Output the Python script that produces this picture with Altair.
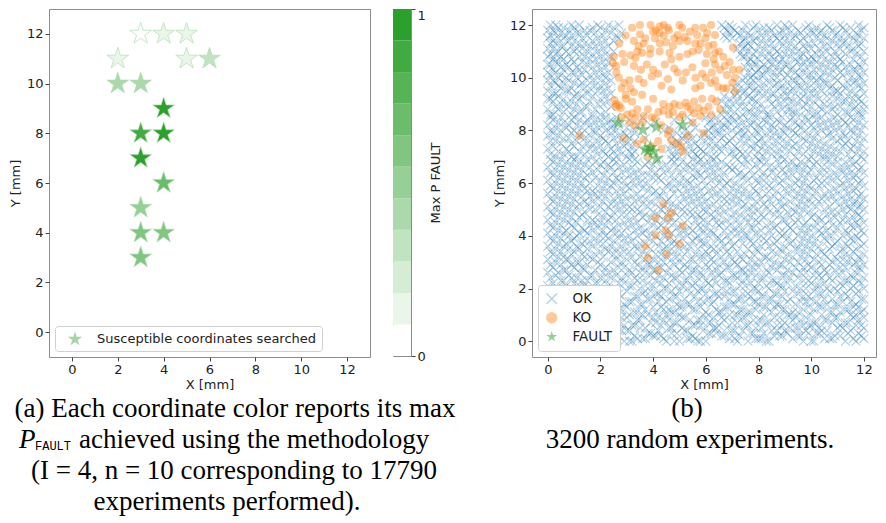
import altair as alt
import pandas as pd

# ---------------- panel (a): susceptible coordinates and their max P_FAULT
A_X = [3, 4, 5, 2, 5, 6, 2, 3, 4, 3, 4, 3, 4, 3, 3, 4, 3]
A_Y = [12, 12, 12, 11, 11, 11, 10, 10, 9, 8, 8, 7, 6, 5, 4, 4, 3]
A_P = [0.03, 0.12, 0.13, 0.11, 0.14, 0.30, 0.40, 0.41, 0.97, 0.85, 0.95, 0.93, 0.65, 0.50, 0.58, 0.57, 0.60]
A_LABEL = "Susceptible coordinates searched"

# ---------------- panel (b): 3200 random experiments
FAULT_X = [2.68, 3.61, 4.13, 5.12, 3.70, 3.90, 4.00, 3.80, 4.13]
FAULT_Y = [8.29, 8.03, 8.13, 8.22, 7.30, 7.35, 7.20, 7.22, 6.93]

KO_X = [3.2, 3.9, 4.25, 4.55, 4.1, 5.1, 5.9, 5.4, 2.95, 3.5, 4.0, 4.25, 4.6, 4.93, 5.2, 5.67, 6.35, 6.05,
        2.71, 3.27, 3.64, 4.07, 4.5, 4.75, 5.3, 5.98, 6.29, 7.03, 5.0, 5.6, 3.45, 4.25,
        2.84, 3.14, 3.58, 3.88, 4.25, 4.62, 5.0, 5.3, 5.73, 6.04, 6.35, 6.66, 3.33, 4.69,
        2.47, 2.6, 2.9, 3.27, 3.54, 3.76, 4.0, 4.19, 4.44, 4.8, 4.93, 5.24, 5.49, 5.86, 5.98, 6.35, 6.54, 6.72, 7.03, 7.27, 6.23, 2.59,
        2.9, 3.14, 3.45, 3.64, 3.95, 4.32, 4.56, 4.69, 5.12, 5.61, 5.8, 6.35, 6.47, 6.66, 7.09, 6.78, 2.96, 3.27,
        2.53, 2.96, 3.2, 3.58, 4.0, 4.38, 4.62, 4.8, 5.0, 5.24, 5.55, 5.86, 6.23, 2.71,
        2.59, 2.77, 3.02, 3.2, 3.33, 3.64, 3.95, 4.07, 4.38, 4.75, 5.12, 5.43, 5.55, 5.73, 5.92, 6.54,
        2.9, 3.33, 3.39, 3.64, 3.95, 4.19, 4.32, 4.56, 4.62, 4.93, 5.12, 5.06, 5.92, 3.82,
        1.2,
        4.38, 4.7, 4.56, 4.1, 5.12, 4.48, 4.6, 4.1, 5.0, 3.7, 3.8, 4.5, 4.19,
        3.4, 3.7, 3.9, 4.4, 4.8, 5.5, 5.8, 6.1, 6.5, 6.0, 6.3, 6.8, 6.9,
        3.1, 5.6, 6.2, 5.3, 6.1, 6.4, 2.8, 2.6, 3.4, 3.8, 4.2,
        4.6, 5.0, 5.8, 6.2, 3.1, 2.8, 3.6, 4.3, 4.7, 5.3, 5.5, 3.5, 4.4, 5.0, 5.6, 6.2, 2.5, 2.7, 7.1, 7.0]
KO_Y = [11.9, 12.0, 11.95, 11.9, 11.8, 11.9, 11.9, 11.75, 11.6, 11.65, 11.75, 11.7, 11.8, 11.62, 11.55, 11.62, 11.62, 11.7,
        11.3, 11.4, 11.3, 11.5, 11.35, 11.2, 11.4, 11.5, 11.25, 11.15, 11.4, 11.3, 11.2, 11.3,
        10.9, 10.85, 10.95, 10.9, 11.0, 10.95, 10.8, 10.9, 11.05, 10.9, 10.95, 10.8, 10.75, 10.7,
        10.55, 10.2, 10.6, 10.45, 10.3, 10.5, 10.3, 10.15, 10.5, 10.35, 10.2, 10.2, 10.4, 10.15, 10.55, 10.5, 10.3, 10.45, 10.3, 10.3, 10.2, 10.45,
        9.8, 9.6, 9.95, 9.8, 10.05, 9.7, 9.95, 9.55, 9.9, 10.0, 9.7, 9.9, 9.65, 9.6, 9.5, 9.6, 9.35, 9.45,
        9.15, 9.2, 9.1, 9.35, 9.2, 9.0, 8.9, 9.0, 8.95, 9.05, 9.1, 9.2, 9.2, 8.95,
        8.9, 8.85, 8.6, 8.65, 8.5, 8.55, 8.5, 8.45, 8.75, 8.7, 8.6, 8.8, 8.65, 8.85, 8.75, 8.8,
        7.7, 8.2, 7.5, 7.65, 7.4, 7.6, 7.3, 7.85, 8.0, 7.5, 7.2, 7.4, 7.9, 7.0,
        7.8,
        5.2, 4.88, 4.68, 4.68, 4.37, 4.21, 4.02, 4.02, 3.7, 3.6, 3.17, 3.3, 2.69,
        11.0, 11.5, 11.1, 11.6, 11.5, 11.0, 11.3, 11.2, 11.0, 10.0, 10.7, 10.1, 10.6,
        9.9, 9.6, 9.8, 8.9, 8.9, 9.1, 9.6, 9.0, 8.8, 8.8, 8.7,
        8.6, 8.5, 8.55, 8.6, 8.3, 8.5, 8.3, 8.2, 7.6, 7.8, 8.3, 12.0, 12.0, 12.0, 11.9, 12.0, 10.8, 10.0, 10.0, 9.8]

# OK experiments: row i is y = i/10 mm, values are x in tenths of mm
OK_ROWS = [
    "0 1 9 12 13 25 29 31 32 45 48 50 57 58 60 72 76 83 84 97 100 101 113 117",
    "4 15 17 18 22 34 36 37 44 53 54 56 69 71 79 80 81 93 105 107 108 116 120",
    "2 5 6 14 26 27 33 40 41 43 55 66 67 73 86 88 89 95 96 109 111 119",
    "8 10 11 20 23 24 38 39 47 49 61 62 64 77 78 82 91 99 102 103 114 118",
    "0 3 16 19 21 28 30 31 42 52 53 59 70 71 74 85 87 90 98 104 106 115",
    "6 7 12 24 25 35 37 46 47 51 63 64 68 79 81 92 94 95 103 110 112 120",
    "1 3 13 14 18 29 32 33 43 55 56 58 65 75 76 87 89 97 99 100 111 117 119",
    "5 9 10 21 22 27 39 41 48 49 61 62 70 72 83 84 90 101 102 108 113 114",
    "0 2 11 16 17 25 34 35 44 46 54 57 58 67 78 80 81 93 96 105 106 118",
    "4 7 8 19 26 28 30 40 42 51 52 63 66 74 75 86 88 94 98 109 110 116 120",
    "3 12 13 22 23 31 36 38 45 50 59 61 69 71 72 82 91 92 100 104 115 117",
    "0 6 8 15 18 19 33 34 41 47 48 60 65 66 76 77 85 93 95 107 108 111 119",
    "2 10 11 24 27 28 37 44 46 55 56 64 73 74 79 89 90 97 101 113 114 120",
    "5 13 14 20 21 30 40 43 50 51 58 67 68 82 83 86 99 103 104 116 118",
    "1 3 9 16 26 29 35 36 49 53 54 62 70 71 80 87 88 94 106 109 110 117",
    "7 12 17 18 23 31 32 42 45 57 59 63 75 78 79 91 96 98 102 112 115",
    "0 4 5 14 22 25 38 39 46 52 61 69 72 73 84 85 92 100 105 108 119 120",
    "8 10 19 20 28 33 34 43 48 49 56 65 67 77 81 82 89 97 99 111 114",
    "2 6 13 15 24 27 36 41 42 54 60 63 64 74 76 86 87 95 103 104 113 117",
    "1 5 11 17 21 22 30 37 39 47 50 57 68 70 71 80 90 93 101 107 110 118",
    "3 4 9 16 25 26 35 44 45 53 58 59 66 78 79 84 96 98 106 109 115 120",
    "0 7 12 14 23 31 32 40 49 51 55 62 73 75 83 88 89 94 102 103 112 116",
    "2 10 18 19 27 29 38 43 46 56 61 64 69 77 80 87 91 100 105 111 119",
    "5 6 13 15 22 34 36 41 52 53 60 67 68 74 85 86 97 99 108 113 114 118",
    "1 9 11 20 24 28 33 44 48 49 57 63 72 76 81 82 92 95 104 107 116 120",
    "3 8 16 17 26 30 39 42 47 54 59 65 70 71 79 89 90 101 103 110 115",
    "0 4 12 21 23 32 35 37 45 51 58 62 66 75 77 84 93 96 98 106 112 117",
    "6 7 14 18 25 31 40 41 50 55 56 64 73 74 83 87 91 102 105 109 119",
    "2 10 13 22 27 29 36 43 46 53 61 68 69 78 80 85 94 97 100 111 113 118",
    "1 5 9 15 20 34 38 39 48 52 57 60 65 72 76 88 89 99 104 107 116 120",
    "3 11 12 19 24 28 33 42 44 50 63 67 71 79 81 86 92 95 103 108 114 117",
    "0 7 8 17 26 30 37 40 47 54 55 62 70 74 77 84 90 98 101 110 112 119",
    "4 6 14 16 21 32 35 45 49 51 58 59 66 73 82 83 93 96 106 109 115 118",
    "2 9 13 18 25 27 38 41 43 56 61 64 69 75 78 87 91 99 102 105 113 120",
    "1 5 10 20 23 29 31 36 46 48 53 60 68 72 80 85 89 97 104 111 116",
    "3 8 12 15 22 26 34 39 44 50 57 63 65 76 79 88 94 95 100 107 112 117",
    "0 6 11 17 24 28 33 42 45 52 54 62 67 70 81 84 90 98 103 108 114 119",
    "4 7 13 19 21 30 35 37 47 49 59 60 71 74 78 86 92 96 101 109 113 120",
    "2 9 14 16 25 32 40 43 48 55 58 66 69 77 83 87 93 99 106 110 116",
    "1 5 10 18 23 27 29 38 46 51 56 64 65 73 80 82 91 97 102 105 115 118",
    "3 8 11 20 22 31 34 41 44 53 57 61 68 75 76 85 89 95 100 107 112 117",
    "0 6 12 15 26 28 36 39 47 50 59 63 70 72 79 88 90 98 104 109 114 120",
    "4 7 14 17 21 24 33 37 45 52 55 62 67 74 81 84 93 96 103 106 113 119",
    "2 10 13 19 25 30 35 42 49 54 58 60 71 77 78 86 92 99 101 110 116",
    "1 5 9 16 22 27 32 40 43 51 57 65 69 73 83 87 91 97 105 108 115 118",
    "3 8 11 18 20 29 34 38 46 48 61 64 66 76 80 85 94 98 102 111 117 120",
    "0 6 15 17 23 26 31 41 44 53 56 59 68 72 79 89 90 95 104 107 112 114",
    "4 9 12 21 24 33 36 39 47 50 58 63 70 75 77 82 92 100 103 109 116 119",
    "2 7 13 19 28 30 37 42 45 55 57 62 65 73 81 86 88 96 101 106 113 118",
    "1 5 10 14 22 25 35 40 48 52 54 60 67 71 78 84 91 94 99 108 110 117",
    "3 8 16 18 27 32 34 43 46 51 59 64 69 76 80 87 93 97 105 112 115 120",
    "0 6 11 20 23 29 31 38 44 49 56 61 66 74 78 83 89 95 102 107 114 118",
    "4 9 12 15 24 26 36 41 47 53 58 63 72 75 82 85 90 98 100 111 116 119",
    "2 7 14 17 21 28 33 39 45 50 55 60 68 70 79 88 92 96 103 109 113 117",
    "1 5 10 19 25 30 35 37 46 52 57 65 67 73 81 84 94 99 104 106 115 120",
    "3 8 13 16 22 27 32 42 43 54 59 62 71 76 77 86 89 97 101 108 112 118",
    "0 6 11 18 20 29 34 40 48 51 56 64 69 74 80 83 91 95 105 110 114 119",
    "4 9 15 17 23 26 38 41 44 53 58 61 66 72 79 87 93 98 102 107 116",
    "2 7 12 14 21 28 31 36 47 49 55 63 70 75 78 85 90 96 100 109 113 117",
    "1 5 10 19 24 30 33 39 45 52 57 60 67 73 82 84 92 99 103 111 115 120",
    "3 8 13 16 22 25 35 37 46 50 54 65 68 71 80 88 94 97 104 106 112 118",
    "0 6 11 20 27 29 32 43 48 53 59 62 69 76 79 86 89 95 101 108 114 119",
    "4 9 14 18 23 26 34 40 42 51 56 64 66 74 81 83 91 98 102 110 116",
    "2 7 12 15 21 31 36 38 47 55 58 61 72 75 78 87 93 96 105 107 113 117",
    "1 5 10 17 25 28 33 41 44 50 57 63 67 73 82 85 90 99 103 109 115 120",
    "3 8 13 19 22 30 35 39 46 52 60 65 70 77 80 89 92 97 100 111 112 118",
    "0 6 11 16 24 27 32 43 49 54 56 62 69 71 84 86 94 95 104 106 114 119",
    "4 9 14 20 23 29 37 40 45 53 59 64 68 74 79 88 91 98 101 108 116",
    "2 7 12 18 21 26 34 38 48 51 57 61 66 76 81 83 93 96 102 110 113 117",
    "1 5 10 15 25 31 33 42 47 55 58 63 72 75 80 87 90 99 105 107 115 120",
    "3 9 11 17 23 26 30 48 50 57 62 64 71 79 82 89 94 100 105 110 119",
    "1 6 14 19 22 28 32 47 53 56 60 69 74 76 85 87 97 103 108 114 117",
    "4 8 12 21 25 31 33 49 55 59 66 70 73 80 83 92 95 101 106 111 120",
    "0 7 16 18 24 27 46 52 58 63 65 72 78 81 88 90 99 104 109 115 118",
    "2 10 13 20 29 32 48 54 57 61 67 71 77 84 86 93 96 102 107 112 116",
    "5 9 15 17 23 26 30 47 50 56 64 68 75 79 82 91 94 100 105 113 119",
    "1 3 11 19 22 28 33 49 53 60 62 69 73 80 87 89 98 103 110 114 117",
    "6 8 14 21 25 31 37 51 55 58 66 70 76 81 85 92 97 101 108 111 120",
    "0 4 12 16 20 27 30 47 52 61 63 67 74 78 83 88 95 99 106 113 118",
    "2 9 13 18 24 29 33 49 54 59 65 72 75 80 86 90 94 102 107 112 116",
    "1 5 10 17 22 26 33 44 52 61 64 70 73 79 84 89 93 98 104 109 115 119",
    "3 7 13 19 24 30 46 56 62 66 68 75 81 86 91 96 101 106 111 117",
    "0 8 11 16 21 25 34 39 50 63 67 72 77 80 85 90 95 100 103 108 114 120",
    "4 6 14 18 23 27 41 55 61 65 69 74 78 83 88 94 97 105 110 113 118",
    "2 9 12 15 20 24 31 48 62 68 71 76 82 87 92 99 102 107 112 116",
    "1 5 10 17 22 26 36 53 60 64 70 73 79 84 89 93 98 104 109 115 119",
    "1 2 9 17 20 66 68 74 79 83 84 96 101 102 110 119",
    "6 12 13 22 71 76 77 87 93 94 99 106 113 114 118",
    "0 4 10 18 67 69 80 82 89 91 92 104 108 116 120",
    "3 8 14 15 24 73 75 78 86 97 100 103 109 111 117",
    "5 7 11 19 21 68 70 81 85 88 95 98 105 107 115 120",
    "2 9 16 23 66 72 74 79 90 92 93 101 112 113 119",
    "0 1 6 12 20 69 77 78 84 87 96 99 103 110 116 118",
    "4 10 13 17 22 67 71 76 82 89 91 97 106 108 114",
    "2 3 11 15 24 72 74 80 85 86 94 100 102 111 117 120",
    "0 7 8 19 21 75 78 83 90 92 97 104 109 110 115",
    "5 9 14 16 23 71 73 79 81 88 93 99 101 107 113 119",
    "1 4 12 18 20 76 77 86 89 95 96 103 108 112 118",
    "3 6 10 13 22 72 82 84 87 91 98 105 106 114 116 120",
    "0 2 8 15 17 24 74 78 80 93 94 100 102 110 117",
    "4 7 11 19 22 75 77 85 87 90 96 103 104 109 115 119",
    "1 5 13 16 21 78 81 82 91 95 99 100 107 112 118",
    "0 3 9 10 18 23 76 79 86 88 94 97 105 111 114 120",
    "2 6 12 14 20 80 83 84 89 92 101 103 108 116 117",
    "5 8 11 17 22 75 77 81 87 93 96 98 106 110 113 119",
    "0 1 7 15 19 79 82 85 90 91 100 104 109 115 118",
    "3 4 10 13 21 23 76 78 84 88 95 97 102 107 112 120",
    "2 6 9 16 18 77 80 86 89 94 99 101 105 111 116",
    "0 5 12 14 20 24 74 75 83 85 92 96 100 108 110 119",
    "1 3 8 17 22 73 78 81 88 90 97 102 104 113 117",
    "4 7 10 15 19 25 76 79 84 87 93 95 106 109 115 120",
    "0 2 11 13 21 72 74 82 86 91 98 100 103 111 116",
    "5 6 9 16 18 23 75 77 80 89 94 97 105 107 114 118",
    "1 3 12 14 20 73 76 83 85 92 99 101 110 112 119",
    "2 8 10 17 22 25 74 78 81 88 90 96 104 108 113 117",
    "0 4 6 13 19 27 68 70 75 79 84 87 93 97 102 106 111 116 120",
    "1 7 9 15 21 26 67 73 77 81 86 90 94 99 105 109 114 118",
    "3 5 11 12 18 24 28 69 72 76 83 88 92 96 101 103 110 117",
    "0 2 8 14 16 22 68 71 74 80 85 89 95 100 104 108 113 119",
    "4 6 10 17 20 25 67 70 78 82 84 91 98 102 107 112 115 120",
    "1 3 9 12 19 23 27 66 69 75 79 87 90 93 99 106 111 118",
]

TYPES = ["OK", "KO", "FAULT"]

# ---------------- styles
GREENS = ["#ffffff", "#eaf6ea", "#d5ecd5", "#c0e3c0", "#abd9ab", "#96d096",
          "#80c680", "#6bbd6b", "#56b356", "#41aa41", "#2ca02c"]
STAR = ("M0,-1L0.2245,-0.309L0.9511,-0.309L0.3633,0.118L0.5878,0.809L0,0.382"
        "L-0.5878,0.809L-0.3633,0.118L-0.9511,-0.309L-0.2245,-0.309Z")
XMARK = ("M-1,-0.83L-0.83,-1L0,-0.17L0.83,-1L1,-0.83L0.17,0L1,0.83L0.83,1"
         "L0,0.17L-0.83,1L-1,0.83L-0.17,0Z")
TICKS = [0, 2, 4, 6, 8, 10, 12]

quant = alt.Scale(type="quantize", domain=[0, 1], range=GREENS, nice=False, zero=False)

# ---------------- tables
df_a = pd.DataFrame({"x": A_X, "y": A_Y, "p": A_P, "series": A_LABEL})

ok_x, ok_y = [], []
for i, row in enumerate(OK_ROWS):
    for v in row.split():
        ok_x.append(int(v) / 10)
        ok_y.append(i / 10)
df_b = pd.concat([
    pd.DataFrame({"x": ok_x, "y": ok_y, "type": "OK"}),
    pd.DataFrame({"x": KO_X, "y": KO_Y, "type": "KO"}),
    pd.DataFrame({"x": FAULT_X, "y": FAULT_Y, "type": "FAULT"}),
], ignore_index=True)

NB = len(GREENS)
df_cb = pd.DataFrame({"lo": [k / NB for k in range(NB)],
                      "hi": [(k + 1) / NB for k in range(NB)],
                      "mid": [(k + 0.5) / NB for k in range(NB)]})

# ---------------- panel (a)
left = alt.Chart(df_a).mark_point(
    filled=True, size=520, opacity=1, stroke="#b3dcb3", strokeWidth=0.7
).encode(
    x=alt.X("x:Q", scale=alt.Scale(domain=[-1, 13], nice=False, zero=False),
            axis=alt.Axis(values=TICKS, title="X [mm]", titlePadding=2)),
    y=alt.Y("y:Q", scale=alt.Scale(domain=[-1, 13], nice=False, zero=False),
            axis=alt.Axis(values=TICKS, title="Y [mm]", titlePadding=4)),
    color=alt.Color("p:Q", scale=quant, legend=None),
    shape=alt.Shape("series:N", scale=alt.Scale(domain=[A_LABEL], range=[STAR]),
                    legend=alt.Legend(orient="bottom-left", title=None, offset=6,
                                      fillColor="white", strokeColor="#d0d0d0",
                                      cornerRadius=3, padding=5, labelFontSize=13,
                                      labelOffset=14, labelLimit=400, symbolSize=230,
                                      symbolOffset=7,
                                      symbolFillColor="#a3d6a3", symbolStrokeColor="#a3d6a3",
                                      symbolStrokeWidth=0)),
).properties(width=321, height=348)

cbar = alt.Chart(df_cb).mark_rect().encode(
    y=alt.Y("lo:Q", scale=alt.Scale(domain=[0, 1], nice=False, zero=False),
            axis=alt.Axis(orient="right", values=[0, 1], format="d", title="Max P FAULT",
                          titleAngle=270, titleBaseline="top", titlePadding=4,
                          labelBaseline={"condition": {"test": "datum.value == 1", "value": "top"},
                                         "value": "middle"})),
    y2="hi:Q",
    x=alt.value(0), x2=alt.value(18),
    color=alt.Color("mid:Q", scale=quant, legend=None),
).properties(width=18, height=347)

# ---------------- panel (b)
leg_b = alt.Legend(orient="bottom-left", title=None, offset=6, fillColor="white",
                   strokeColor="#d0d0d0", cornerRadius=3, padding=7, labelFontSize=13.5,
                   labelOffset=14, rowPadding=4, symbolSize=130)
base_b = alt.Chart(df_b).encode(
    x=alt.X("x:Q", scale=alt.Scale(domain=[-0.6, 12.46], nice=False, zero=False),
            axis=alt.Axis(values=TICKS, title="X [mm]", titlePadding=2)),
    y=alt.Y("y:Q", scale=alt.Scale(domain=[-0.6, 12.61], nice=False, zero=False),
            axis=alt.Axis(values=TICKS, title="Y [mm]", titlePadding=3)),
    color=alt.Color("type:N", scale=alt.Scale(domain=TYPES, range=["#1f77b4", "#ff7f0e", "#2ca02c"]),
                    legend=leg_b),
    shape=alt.Shape("type:N", scale=alt.Scale(domain=TYPES, range=[XMARK, "circle", STAR]),
                    legend=leg_b),
    opacity=alt.Opacity("type:N", scale=alt.Scale(domain=TYPES, range=[0.34, 0.5, 0.7]),
                        legend=leg_b),
)
right = alt.layer(
    base_b.transform_filter(alt.datum.type == "OK").mark_point(filled=True, size=95),
    base_b.transform_filter(alt.datum.type == "KO").mark_point(filled=True, size=65),
    base_b.transform_filter(alt.datum.type == "FAULT").mark_point(filled=True, size=260),
).properties(width=344, height=348)

# ---------------- captions
def txt(s, x, y, size=27, font="Liberation Serif", style="normal", align="center"):
    return alt.Chart(pd.DataFrame({"t": [s]})).mark_text(
        font=font, fontSize=size, fontStyle=style, align=align, baseline="middle", color="black"
    ).encode(x=alt.value(x), y=alt.value(y), text="t:N")

cap = alt.layer(
    txt("(a) Each coordinate color reports its max", 186, 14),
    txt("P", -30, 45, style="italic", align="left"),
    txt("FAULT", -14, 51, size=12, font="Liberation Mono", align="left"),
    txt("achieved using the methodology", 30, 45, align="left"),
    txt("(I = 4, n = 10 corresponding to 17790", 185, 76),
    txt("experiments performed).", 178, 107),
    txt("(b)", 638, 14),
    txt("3200 random experiments.", 641, 45),
).properties(width=780, height=116, view=alt.ViewBackground(stroke="transparent"))

indep = dict(color="independent", shape="independent", size="independent", opacity="independent")
inner = alt.hconcat(left, cbar, spacing=21).resolve_scale(**indep)
top = alt.hconcat(inner, right, spacing=49).resolve_scale(**indep)
chart = alt.vconcat(top, cap, spacing=2).resolve_scale(**indep).properties(
    padding={"left": 0, "top": 0, "right": 0, "bottom": 0}
).configure_axis(
    grid=False, domain=False, tickColor="#444", tickSize=4, labelPadding=2,
    labelFont="DejaVu Sans", labelFontSize=13, labelColor="#222",
    titleFont="DejaVu Sans", titleFontSize=13, titleFontWeight="normal", titleColor="#222",
).configure_view(stroke="#8c8c8c", strokeWidth=1).configure_legend(
    labelFont="DejaVu Sans", labelColor="#222"
)

chart.save("out.html", embed_options={"renderer": "svg", "actions": False})
